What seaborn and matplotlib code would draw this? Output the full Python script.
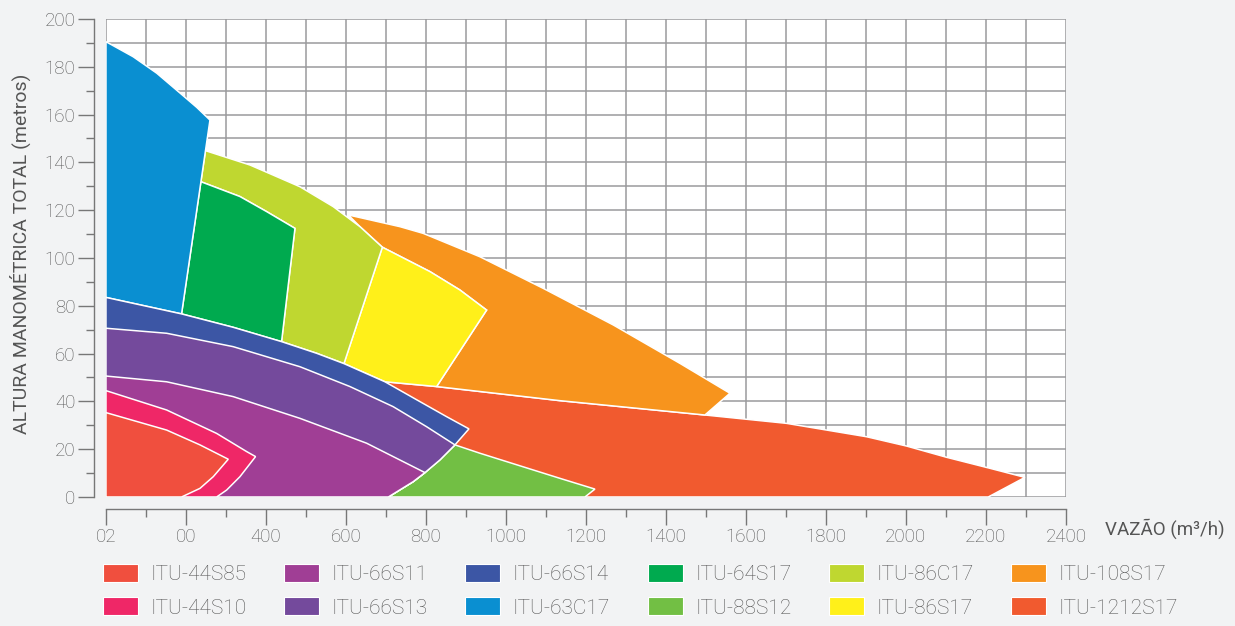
import matplotlib.pyplot as plt
import seaborn as sns
from matplotlib.patches import Patch

# curvas de operação: vazão (m3/h) x altura manométrica (m)
x_1212S17 = [697.5, 826.7, 1135, 1497.5, 1701.7, 1801.7, 1901.7, 2001.7, 2101.7, 2210, 2297.5, 2205.8, 706]
y_1212S17 = [48.2, 46.2, 40.3, 34.3, 30.8, 28, 25.2, 21.3, 16.6, 12, 8.2, 0, 0]

x_108S17 = [606, 735, 793, 935, 1093, 1268, 1435, 1560, 1497.5, 1135, 826.7, 951.7, 885, 810, 691, 635]
y_108S17 = [118, 113.1, 110.3, 100.5, 87.3, 72, 55.9, 43.4, 34.3, 40.3, 46.2, 78.2, 86.6, 94.3, 104.5, 113.1]

x_86S17 = [691, 810, 885, 951.7, 826.7, 697.5, 595]
y_86S17 = [104.5, 94.3, 86.6, 78.2, 46.2, 48.2, 55.8]

x_86C17 = [248.8, 360, 485, 568, 635, 691, 595, 527, 439, 472.5, 401.7, 335, 237.4]
y_86C17 = [144.9, 138.9, 129.8, 121.5, 113.1, 104.5, 55.8, 60.1, 65, 112.4, 119.4, 125.7, 131.9]

x_64S17 = [237.4, 335, 401.7, 472.5, 439, 318, 189]
y_64S17 = [131.9, 125.7, 119.4, 112.4, 65, 71, 76.6]

x_63C17 = [0, 68, 127, 181, 227, 260, 189, 0]
y_63C17 = [190.5, 184.2, 177.3, 169.6, 163, 157.7, 76.6, 83.5]

x_88S12 = [872.5, 935, 1135, 1222.5, 1197.5, 706, 768, 797.5]
y_88S12 = [21.8, 18.3, 7.8, 3.3, 0, 0, 6.4, 10.2]

x_66S14 = [0, 189, 318, 439, 527, 595, 697.5, 785, 851.7, 907.5, 872.5, 835, 797.5, 768, 706, 0]
y_66S14 = [83.5, 76.6, 71, 65, 60.1, 55.8, 48.2, 39.9, 33.6, 28.5, 21.8, 15.5, 10.2, 6.4, 0, 0]

x_66S13 = [0, 151.7, 318, 485, 610, 718, 801.7, 872.5, 835, 797.5, 768, 706, 0]
y_66S13 = [70.6, 68.5, 62.9, 54.5, 46.2, 37.8, 29.4, 21.8, 15.5, 10.2, 6.4, 0, 0]

x_66S11 = [0, 151.7, 318, 485, 651.7, 797.5, 768, 706, 0]
y_66S11 = [50.6, 48.2, 42, 32.9, 22.5, 10.2, 6.4, 0, 0]

x_44S10 = [0, 151.7, 276.7, 351.7, 374, 335, 301.7, 276.7, 0]
y_44S10 = [44.5, 36.4, 26.6, 19, 16.9, 8.5, 2.9, 0, 0]

x_44S85 = [0, 151.7, 235, 305.8, 268.3, 235, 189, 0]
y_44S85 = [35.3, 28, 21.8, 15.8, 8.5, 3.6, 0, 0]

xticks = [0, 200, 400, 600, 800, 1000, 1200, 1400, 1600, 1800, 2000, 2200, 2400]
xtick_labels = ['02', '00', '400', '600', '800', '1000', '1200', '1400', '1600',
                '1800', '2000', '2200', '2400']
yticks = [0, 20, 40, 60, 80, 100, 120, 140, 160, 180, 200]

# ordem do desenho (de trás para frente)
shapes = [
    ('ITU-1212S17', x_1212S17, y_1212S17, '#f15a2f'),
    ('ITU-108S17', x_108S17, y_108S17, '#f7941d'),
    ('ITU-86S17', x_86S17, y_86S17, '#fff01a'),
    ('ITU-86C17', x_86C17, y_86C17, '#bfd730'),
    ('ITU-64S17', x_64S17, y_64S17, '#00aa4f'),
    ('ITU-63C17', x_63C17, y_63C17, '#0a8fd1'),
    ('ITU-88S12', x_88S12, y_88S12, '#72bf44'),
    ('ITU-66S14', x_66S14, y_66S14, '#3c56a5'),
    ('ITU-66S13', x_66S13, y_66S13, '#744a9c'),
    ('ITU-66S11', x_66S11, y_66S11, '#a03e95'),
    ('ITU-44S10', x_44S10, y_44S10, '#ef2767'),
    ('ITU-44S85', x_44S85, y_44S85, '#f04f3e'),
]
# ordem da legenda (preenche por coluna)
legend_order = ['ITU-44S85', 'ITU-44S10', 'ITU-66S11', 'ITU-66S13', 'ITU-66S14', 'ITU-63C17',
                'ITU-64S17', 'ITU-88S12', 'ITU-86C17', 'ITU-86S17', 'ITU-108S17', 'ITU-1212S17']

sns.set_style('white')
plt.rcParams['font.family'] = ['Roboto', 'DejaVu Sans']
plt.rcParams['font.weight'] = 'light'

fig = plt.figure(figsize=(12.35, 6.26), dpi=100, facecolor='#f2f3f4')
ax = fig.add_axes([0.0858, 0.2061, 0.7773, 0.7636])
ax.set_facecolor('white')

colors = {}
for name, xs, ys, c in shapes:
    ax.fill(xs, ys, facecolor=c, edgecolor='white', linewidth=1.1, zorder=2)
    colors[name] = c

ax.set_xlim(0, 2400)
ax.set_ylim(0, 200)
ax.set_xticks(xticks)
ax.set_xticklabels(xtick_labels)
ax.set_yticks(yticks)
ax.set_xticks(range(0, 2401, 100), minor=True)
ax.set_yticks(range(0, 201, 10), minor=True)
ax.grid(which='both', color='#9a9a9c', linewidth=1.1, zorder=0)
ax.set_axisbelow(True)

for s in ['top', 'right']:
    ax.spines[s].set_visible(False)
for s in ['left', 'bottom']:
    ax.spines[s].set_position(('outward', 8.6))
    ax.spines[s].set_color('#777777')
    ax.spines[s].set_linewidth(1.0)

ax.tick_params(which='both', bottom=True, left=True, direction='out', color='#777777', width=1.0)
ax.tick_params(which='major', length=11.5, pad=2, labelsize=13.5, labelcolor='#555555')
ax.tick_params(which='minor', length=5.8)

ax.set_xlabel('VAZÃO (m³/h)', fontsize=13.5, color='#555555')
ax.xaxis.set_label_coords(1.103, -0.044)
ax.set_ylabel('ALTURA MANOMÉTRICA TOTAL (metros)', fontsize=14, color='#555555')
ax.yaxis.set_label_coords(-0.078, 0.509)

handles = [Patch(facecolor=colors[n], edgecolor='white', linewidth=0.8) for n in legend_order]
fig.legend(handles, legend_order, ncol=6, loc='upper left', bbox_to_anchor=(103 / 1235, 1 - 564 / 626),
           frameon=False, fontsize=15, handlelength=1.68, handleheight=0.96, handletextpad=0.6,
           columnspacing=1.8, labelspacing=0.63, borderpad=0, borderaxespad=0, labelcolor='#555555')

fig.savefig('out.png', dpi=100, facecolor=fig.get_facecolor())
